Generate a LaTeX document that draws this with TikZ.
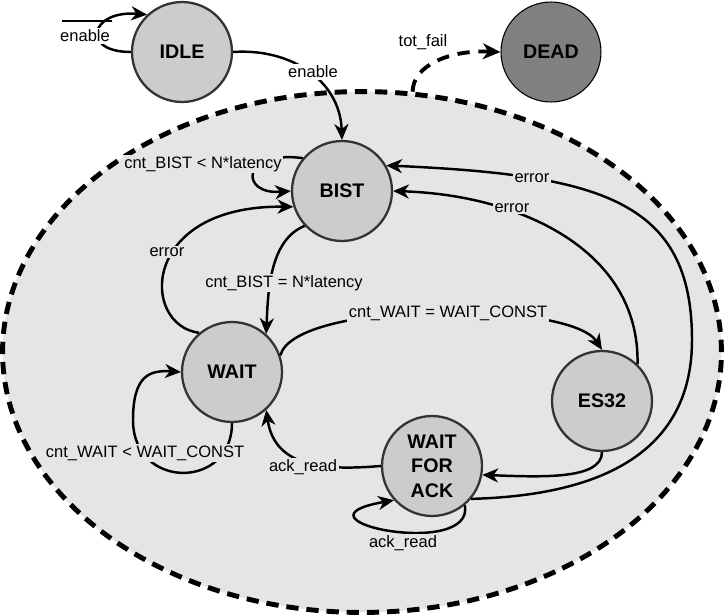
\documentclass[tikz,border=0pt]{standalone}
\usepackage{fontspec}
\setmainfont{Liberation Sans}
\usetikzlibrary{arrows.meta,shapes.geometric}

\begin{document}
\begin{tikzpicture}[x=0.02cm, y=-0.02cm,
    fsm/.style={circle, draw=black!80, line width=1.3pt, fill=black!20,
      minimum size=2cm, inner sep=0pt, align=center,
      font=\fontsize{11.2}{13.9}\selectfont\bfseries},
    lbl/.style={fill=black!10, inner sep=1pt, font=\fontsize{9.4}{11}\selectfont},
    lblout/.style={lbl, fill=white},
    trans/.style={line width=1.4pt, -{Stealth[length=9pt, width=8pt, inset=2.8pt]}},
    failedge/.style={line width=2.2pt, dash pattern=on 7pt off 5pt,
      -{Stealth[length=10pt, width=9pt, inset=3pt]}},
  ]
  \useasboundingbox (0,0) rectangle (725,616);

  % zone where the ring is running
  \node[ellipse, draw, fill=black!10, line width=2.8pt, dash pattern=on 7pt off 4.5pt,
    minimum width=14.38cm, minimum height=10.42cm, inner sep=0pt] (zone) at (362,352) {};

  % states
  \node[fsm] (idle) at (182,52) {IDLE};
  \node[fsm, fill=black!50, draw=black, line width=0.6pt] (dead) at (551,52) {DEAD};
  \node[fsm] (bist) at (342,191) {BIST};
  \node[fsm] (wait) at (232,372) {WAIT};
  \node[fsm] (es) at (602,401) {ES32};
  \node[fsm] (wfa) at (432,466) {WAIT\\FOR\\ACK};

  \coordinate (init) at (62,21);
  \coordinate (initend) at (112,21);

  % transitions
  \draw[line width=0.9pt] (init) -- (initend);
  \draw[trans] (idle.west) .. controls (80,52) and (90,10) .. (idle.133);
  \draw[trans] (idle.east) .. controls (290,48) and (340,80) .. (bist.north);
  \draw[failedge] (zone.79) .. controls (413,65) and (450,50) .. (dead.west);
  \draw[trans] (bist.140) .. controls (240,150) and (240,195) .. (bist.west);
  \draw[trans] (wait.130) .. controls (140,325) and (140,205) .. (bist.198);
  \draw[trans] (bist.223) .. controls (270,240) and (268,290) .. (wait.48);
  \draw[trans] (wait.19) .. controls (295,300) and (570,300) .. (es.north);
  \draw[trans] (es.46) .. controls (640,250) and (520,195) .. (bist.east);
  \draw[trans] (wfa.-40) .. controls (620,495) and (692,440) .. (692,340)
    .. controls (692,200) and (600,175) .. (bist.30);
  \draw[trans] (es.south) .. controls (602,480) and (540,477) .. (wfa.-10);
  \draw[trans] (wfa.west) .. controls (330,470) and (275,470) .. (wait.-48);
  \draw[trans] (wait.south) .. controls (232,490) and (133,490) .. (133,420)
    .. controls (133,375) and (150,370) .. (wait.west);
  \draw[trans] (wfa.-50) .. controls (475,560) and (280,520) .. (wfa.-138);

  % labels
  \node[lblout] (lIdleLoop) at (85,36) {enable};
  \node[lblout] (lEnable) at (313,72) {enable};
  \node[lblout, fill=none] (lFail) at (423,42) {tot\_fail};
  \node[lbl] (lBistLoop) at (203,164) {cnt\_BIST < N*latency};
  \node[lbl] (lErrW) at (167,252) {error};
  \node[lbl] (lBistW) at (284,283) {cnt\_BIST = N*latency};
  \node[lbl] (lWaitEs) at (448,313) {cnt\_WAIT = WAIT\_CONST};
  \node[lbl] (lErrIn) at (512,208) {error};
  \node[lbl] (lErrOut) at (532,178) {error};
  \node[lbl] (lAckW) at (303,467) {ack\_read};
  \node[lbl] (lWaitLoop) at (145,453) {cnt\_WAIT < WAIT\_CONST};
  \node[lbl] (lAckLoop) at (403,543) {ack\_read};
\end{tikzpicture}
\end{document}
